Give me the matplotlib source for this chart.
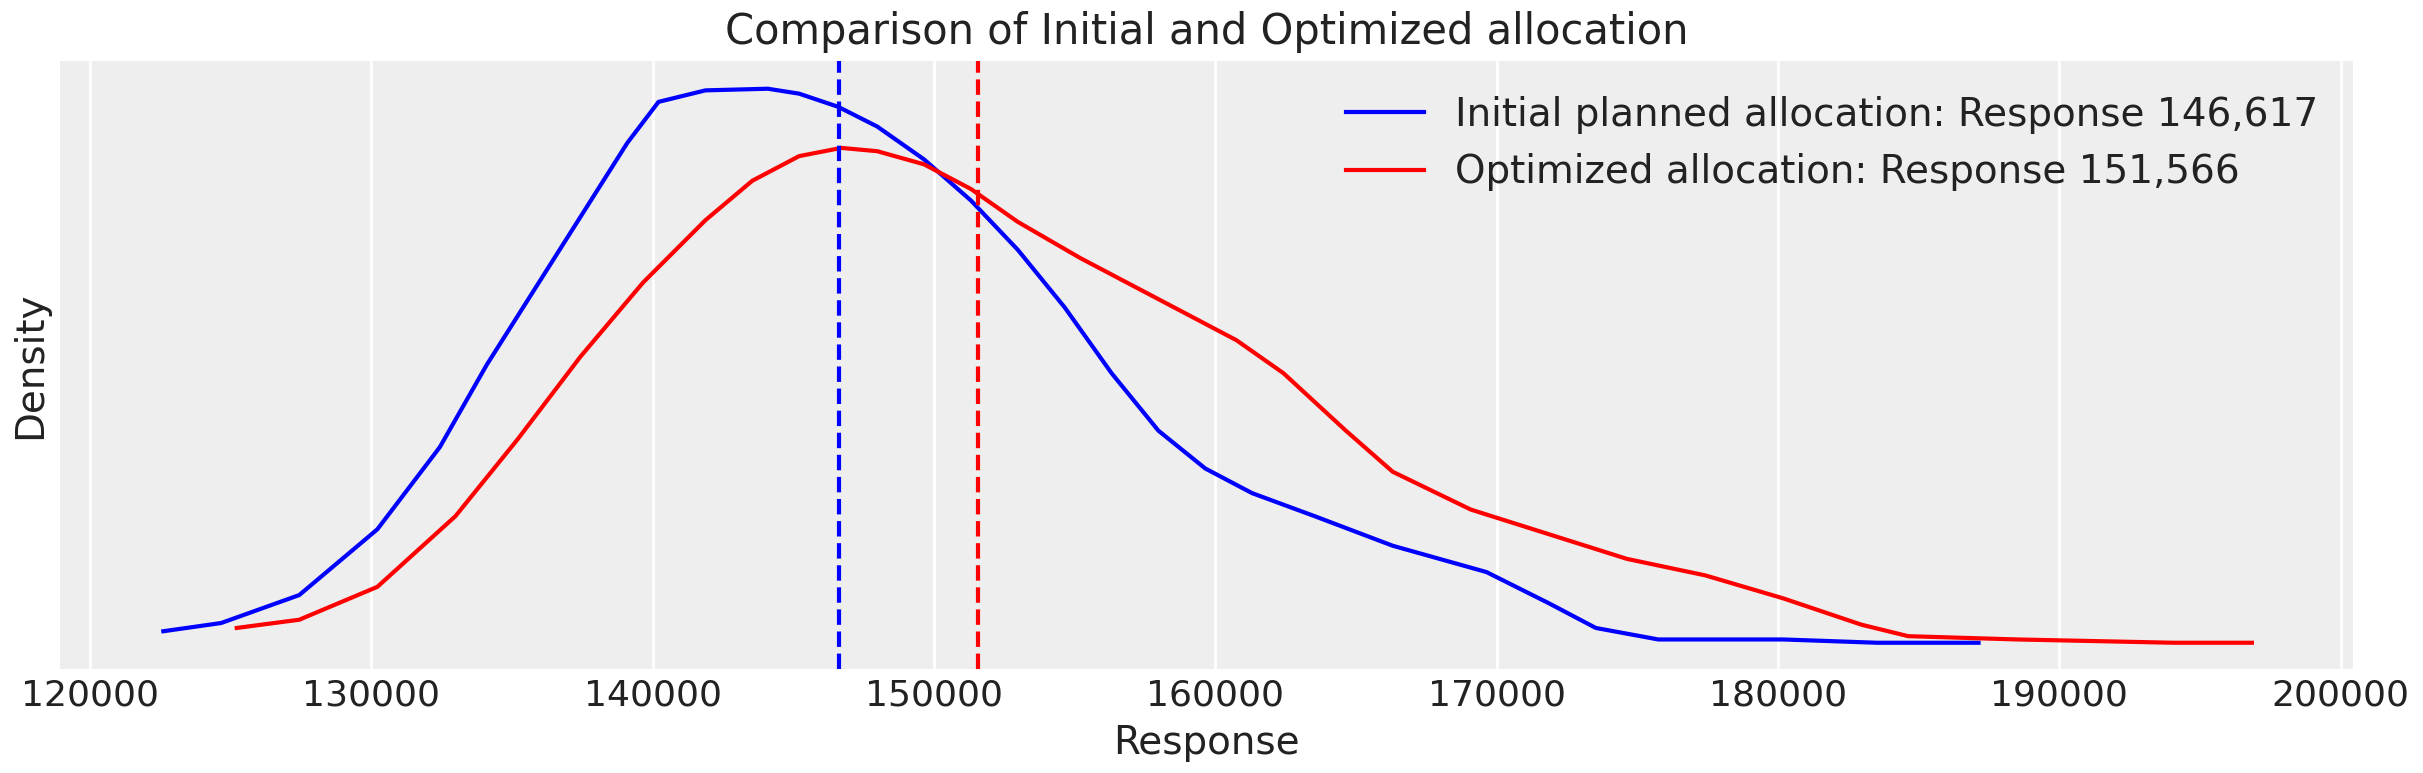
import matplotlib.pyplot as plt

# density curves (y in arbitrary density units)
initial_x = [122610, 124664, 127440, 130217, 132438, 134103, 135769, 137435, 139100, 140211,
             141877, 144098, 145208, 146596, 147984, 149650, 151316, 152982, 154647, 156313,
             157979, 159645, 161310, 163531, 166308, 169639, 171860, 173526, 175747, 180188,
             183520, 187130]
initial_y = [23, 28, 45, 85, 135, 185, 230, 275, 320, 345,
             352, 353, 350, 342, 330, 310, 285, 255, 220, 180,
             145, 122, 107, 93, 75, 59, 40, 25, 18, 18,
             16, 16]
optimized_x = [125219, 127440, 130217, 132993, 135214, 137435, 139656, 141877, 143543, 145208,
               146707, 147984, 149650, 151316, 152982, 155202, 157979, 160755, 162421, 164642,
               166308, 169084, 171860, 174636, 177412, 180188, 182965, 184630, 188517, 191294,
               194070, 196846]
optimized_y = [25, 30, 50, 93, 140, 190, 235, 273, 297, 312,
               317, 315, 307, 292, 272, 250, 225, 200, 180, 145,
               120, 97, 82, 67, 57, 43, 27, 20, 18, 17,
               16, 16]
initial_mean = 146617
optimized_mean = 151566

fig, ax = plt.subplots(figsize=(12.115, 3.865), dpi=200)
ax.set_facecolor('#eeeeee')
for s in ax.spines.values():
    s.set_visible(False)
ax.grid(axis='x', color='white', linewidth=1)
ax.set_axisbelow(True)

ax.plot(initial_x, initial_y, color='blue', lw=1.5,
        label=f'Initial planned allocation: Response {initial_mean:,}')
ax.plot(optimized_x, optimized_y, color='red', lw=1.5,
        label=f'Optimized allocation: Response {optimized_mean:,}')
ax.axvline(initial_mean, color='blue', ls='--', lw=1.5)
ax.axvline(optimized_mean, color='red', ls='--', lw=1.5)

ax.set_xlim(118945, 200444)
ax.set_ylim(0, 370)
ax.set_yticks([])
ax.tick_params(axis='x', length=0, labelsize=13, colors='#222222')
ax.set_xlabel('Response', fontsize=14, color='#222222')
ax.set_ylabel('Density', fontsize=14, color='#222222')
ax.set_title('Comparison of Initial and Optimized allocation', fontsize=15, color='#222222')
leg = ax.legend(frameon=False, fontsize=14, loc='upper right')
for t in leg.get_texts():
    t.set_color('#222222')

plt.tight_layout(pad=0.4)
plt.savefig('out.png')
